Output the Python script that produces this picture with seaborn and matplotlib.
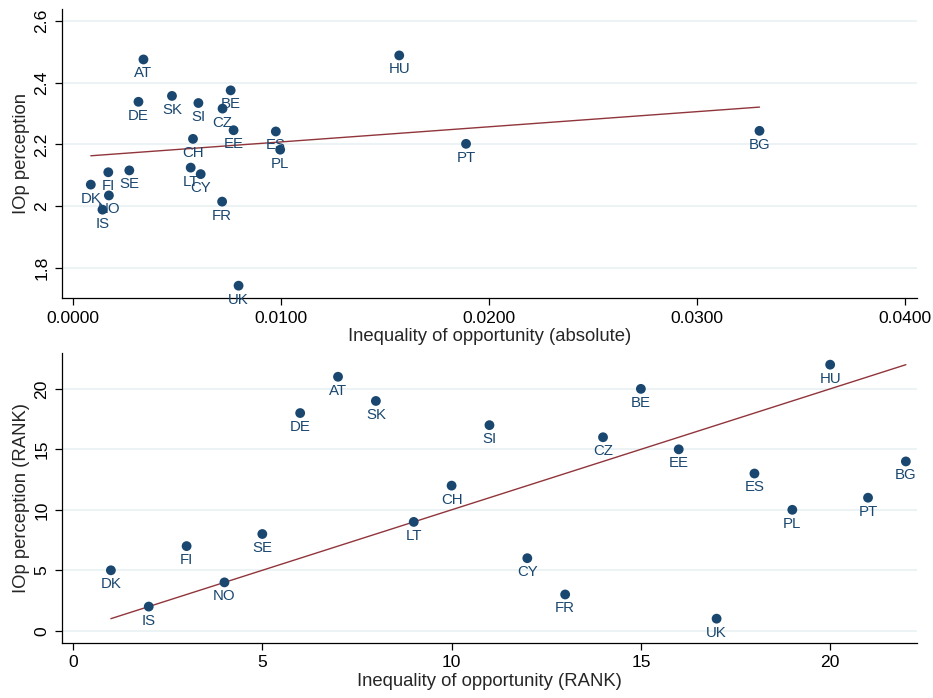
import matplotlib
matplotlib.use("Agg")
import matplotlib.pyplot as plt
import seaborn as sns
import pandas as pd
from matplotlib.ticker import FormatStrFormatter, FuncFormatter

# countries in the order of the absolute IOp
countries = ["DK", "IS", "FI", "NO", "SE", "DE", "AT", "SK", "LT", "CH", "SI",
             "CY", "FR", "CZ", "BE", "EE", "UK", "ES", "PL", "HU", "PT", "BG"]
iop_abs = [0.00087, 0.00143, 0.00171, 0.00174, 0.00272, 0.00316, 0.00340, 0.00477,
           0.00567, 0.00578, 0.00604, 0.00615, 0.00718, 0.00720, 0.00759, 0.00773,
           0.00797, 0.00976, 0.00997, 0.01569, 0.01890, 0.03300]
perception = [2.070, 1.989, 2.110, 2.035, 2.116, 2.338, 2.475, 2.357, 2.125, 2.218,
              2.334, 2.104, 2.015, 2.316, 2.375, 2.246, 1.743, 2.242, 2.183, 2.488,
              2.202, 2.244]
iop_rank = list(range(1, 23))
perception_rank = [5, 2, 7, 4, 8, 18, 21, 19, 9, 12, 17, 6, 3, 16, 20, 15, 1, 13,
                   10, 22, 11, 14]

df = pd.DataFrame({"country": countries, "iop": iop_abs, "perc": perception,
                   "iop_rank": iop_rank, "perc_rank": perception_rank})

NAVY = "#1a476f"
MAROON = "#90353b"
GRID = "#eaf2f3"

sns.set_theme(style="white")
plt.rcParams["font.family"] = ["Liberation Sans", "DejaVu Sans"]

fig = plt.figure(figsize=(9.33, 6.98), dpi=100)
ax1 = fig.add_axes([0.0661, 0.573, 0.917, 0.414])
ax2 = fig.add_axes([0.0661, 0.079, 0.917, 0.415])


def style_axis(ax):
    sns.despine(ax=ax)
    for s in ["left", "bottom"]:
        ax.spines[s].set_color("black")
        ax.spines[s].set_linewidth(0.9)
    ax.yaxis.grid(True, color=GRID, linewidth=1.3)
    ax.set_axisbelow(True)
    ax.tick_params(axis="both", which="major", direction="out", length=5,
                   width=0.9, color="black", labelsize=12.6, labelcolor="black",
                   bottom=True, left=True, pad=4)
    for lab in ax.get_yticklabels():
        lab.set_rotation(90)
        lab.set_va("center")


def label_points(ax, xcol, ycol):
    for _, r in df.iterrows():
        ax.annotate(r["country"], (r[xcol], r[ycol]), xytext=(0, -5),
                    textcoords="offset points", ha="center", va="top",
                    fontsize=10.8, color=NAVY)


# top panel: absolute values
sns.regplot(data=df, x="iop", y="perc", ax=ax1, scatter=False, ci=None,
            truncate=True, line_kws={"color": MAROON, "linewidth": 1.0})
sns.scatterplot(data=df, x="iop", y="perc", ax=ax1, color=NAVY, s=50,
                edgecolor="none", zorder=3)
label_points(ax1, "iop", "perc")
ax1.set_xlim(-0.00053, 0.04058)
ax1.set_ylim(1.703, 2.638)
ax1.set_xticks([0, 0.01, 0.02, 0.03, 0.04])
ax1.set_yticks([1.8, 2.0, 2.2, 2.4, 2.6])
ax1.xaxis.set_major_formatter(FormatStrFormatter("%.4f"))
ax1.yaxis.set_major_formatter(FuncFormatter(lambda v, p: f"{v:g}"))
ax1.set_xlabel("Inequality of opportunity (absolute)", fontsize=13.3, labelpad=2)
ax1.set_ylabel("IOp perception", fontsize=13.3, labelpad=3)
style_axis(ax1)

# bottom panel: ranks with 45 degree line
diag = [df["iop_rank"].min(), df["iop_rank"].max()]
sns.lineplot(x=diag, y=diag, ax=ax2, color=MAROON, linewidth=1.0)
sns.scatterplot(data=df, x="iop_rank", y="perc_rank", ax=ax2, color=NAVY, s=50,
                edgecolor="none", zorder=3)
label_points(ax2, "iop_rank", "perc_rank")
ax2.set_xlim(-0.3, 22.3)
ax2.set_ylim(-1.0, 22.95)
ax2.set_xticks([0, 5, 10, 15, 20])
ax2.set_yticks([0, 5, 10, 15, 20])
ax2.set_xlabel("Inequality of opportunity (RANK)", fontsize=13.3, labelpad=2)
ax2.set_ylabel("IOp perception (RANK)", fontsize=13.3, labelpad=3)
style_axis(ax2)

fig.savefig("out.png", dpi=100)
